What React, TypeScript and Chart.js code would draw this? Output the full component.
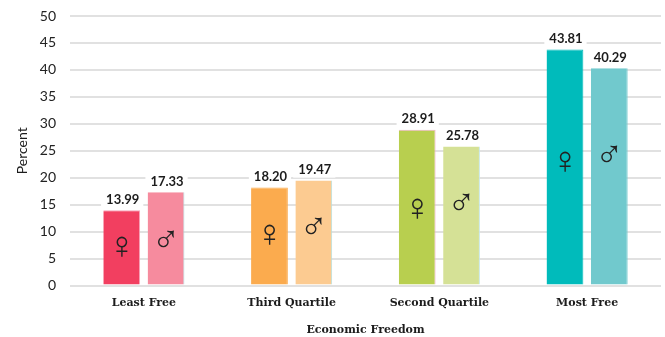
import React, { useEffect, useRef } from "react";
import { Chart, registerables } from "chart.js";

Chart.register(...registerables);

const categories = ["Least Free", "Third Quartile", "Second Quartile", "Most Free"];
const femaleValues = [13.99, 18.2, 28.91, 43.81];
const maleValues = [17.33, 19.47, 25.78, 40.29];
// Heights on the percent axis at which the gender symbols sit inside each bar.
const femaleSymbolLevels = [7.1, 9.3, 14.1, 22.9];
const maleSymbolLevels = [8.2, 10.5, 15.1, 24];
const femaleColors = ["#f23f60", "#fbab4e", "#b8cf4f", "#00bbbb"];
const maleColors = ["#f68b9e", "#fccb91", "#d5e196", "#71c9cd"];
const femaleEdges = ["#f7a3b8", "#fbab4e", "#f0b0c8", "#00bbbb"];
const maleEdges = ["#a8dde0", "#b0e0e0", "#c8e8e8", "#71c9cd"];
const yTicks = [0, 5, 10, 15, 20, 25, 30, 35, 40, 45, 50];

const barAnnotations = {
  id: "barAnnotations",
  afterDatasetsDraw(chart: any) {
    const { ctx } = chart;
    const y = chart.scales.y;
    ctx.save();
    ctx.textAlign = "center";
    ctx.textBaseline = "middle";
    chart.data.datasets.forEach((ds: any, d: number) => {
      const symbol = d === 0 ? "\u2640" : "\u2642";
      const levels = d === 0 ? femaleSymbolLevels : maleSymbolLevels;
      chart.getDatasetMeta(d).data.forEach((bar: any, i: number) => {
        const text = ds.data[i].toFixed(2);
        ctx.font = "700 13px Lato";
        const w = ctx.measureText(text).width;
        ctx.fillStyle = "#ffffff";
        ctx.fillRect(bar.x - w / 2 - 4, bar.y - 18, w + 9, 15);
        ctx.fillStyle = "#1c1c1c";
        ctx.fillText(text, bar.x + 1, bar.y - 10.5);
        ctx.font = "38px 'Liberation Sans'";
        ctx.fillStyle = "#222222";
        ctx.fillText(symbol, bar.x, y.getPixelForValue(levels[i]));
      });
    });
    ctx.restore();
  },
};

export default function App() {
  const ref = useRef<HTMLCanvasElement>(null);
  useEffect(() => {
    const chart = new Chart(ref.current!, {
      type: "bar",
      data: {
        labels: categories,
        datasets: [
          { label: "Female", data: femaleValues, backgroundColor: femaleColors, borderColor: femaleEdges, borderWidth: { top: 1, right: 1 } },
          { label: "Male", data: maleValues, backgroundColor: maleColors, borderColor: maleEdges, borderWidth: { right: 1 } },
        ],
      },
      options: {
        animation: false,
        responsive: false,
        layout: { padding: { left: 0, right: 4, top: 16, bottom: 0 } },
        datasets: { bar: { categoryPercentage: 0.6, barPercentage: 0.83 } },
        plugins: { legend: { display: false }, tooltip: { enabled: false } },
        scales: {
          x: {
            grid: { display: false },
            border: { display: false },
            ticks: { color: "#1c1c1c", font: { family: "'DejaVu Serif'", size: 11, weight: "bold" }, padding: 3, maxRotation: 0 },
            title: { display: true, text: "Economic Freedom", color: "#1c1c1c", font: { family: "'DejaVu Serif'", size: 11, weight: "bold" }, padding: { top: 11, bottom: 0 } },
          },
          y: {
            min: 0,
            max: 50,
            afterFit(scale: any) { scale.width = 70; },
            afterBuildTicks(scale: any) { scale.ticks = yTicks.map((value) => ({ value })); },
            grid: { color: "#e1e1e1", lineWidth: 2, drawTicks: true, tickLength: 7, tickColor: "rgba(0,0,0,0)" },
            border: { display: false },
            ticks: { color: "#222222", font: { family: "Lato", size: 14 }, padding: 7 },
            title: { display: true, text: "Percent", color: "#1c1c1c", font: { family: "Lato", size: 14 }, padding: { top: 14, bottom: 0 } },
          },
        },
      },
      plugins: [barAnnotations],
    });
    return () => chart.destroy();
  }, []);
  return (
    <div style={{ position: "absolute", left: 0, top: 0, width: 665, height: 337, background: "#fff" }}>
      <canvas ref={ref} width={665} height={337} style={{ display: "block" }} />
    </div>
  );
}
